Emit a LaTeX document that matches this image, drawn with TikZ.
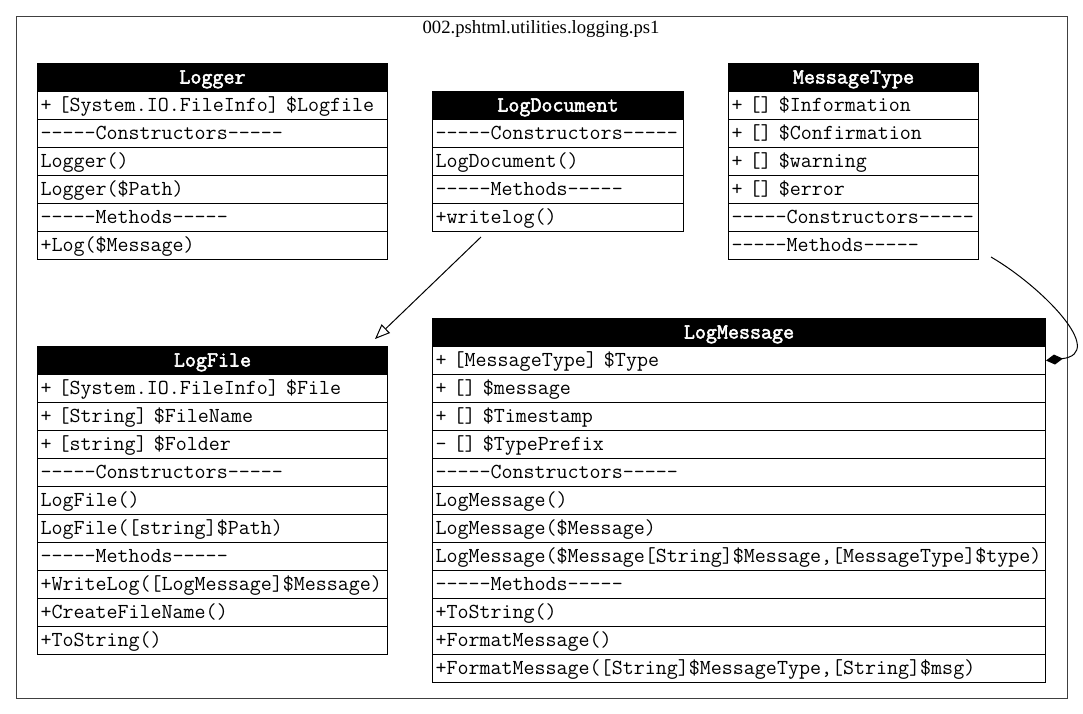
\documentclass[tikz,border=0pt]{standalone}
\usepackage{fontspec}
\setmainfont{Liberation Serif}
\setmonofont{lmmono12-regular.otf}[BoldFont=lmmono12-regular.otf, BoldFeatures={FakeBold=2.5}]
\usetikzlibrary{arrows.meta,calc}

% typewriter text with a fixed 11pt advance, spaces included
\newcommand\rowfont{\ttfamily\fontsize{21.39}{24}\selectfont\spaceskip=\fontcharwd\font`a\relax}
\newcommand\headfont{\ttfamily\bfseries\fontsize{21.39}{24}\selectfont\spaceskip=\fontcharwd\font`a\relax}

\tikzset{
  classhead/.style={draw=black, fill=black, text=white, font=\headfont,
    anchor=north west, minimum height=28, inner sep=0,
    text height=14, text depth=2, line width=1},
  classrow/.style={font=\rowfont, draw=black, fill=white, anchor=north west,
    minimum height=28, inner xsep=3, inner ysep=0, align=left,
    text height=14, text depth=2, line width=1},
  inherit/.style={line width=1, -{Triangle[open, length=15, width=12, line width=1]}},
  aggregate/.style={line width=1, {Diamond[length=17, width=10, fill=black]}-},
  package/.style={draw=black!75, line width=1.2, anchor=north west, inner sep=0},
}

% #1 name, #2 left, #3 top, #4 width, #5 title, #6 rows
\newcommand\classbox[6]{%
  \node[classhead, minimum width=#4] (#1) at (#2,#3) {#5};
  \pgfmathsetmacro\rowtw{#4-6}%
  \foreach \t [count=\i] in {#6} {
    \node[classrow, text width=\rowtw pt, minimum width=#4] (#1-\i) at (#2,{#3+28*\i}) {\t};
  }%
}

\begin{document}
\begin{tikzpicture}[x=1pt, y=-1pt]
\useasboundingbox (0,0) rectangle (1083,713);

\node[package, minimum width=1051, minimum height=682] (frame) at (15.5,15.5) {};
\node[font=\rmfamily\fontsize{18.7}{22}\selectfont] (title) at (541,29) {002.pshtml.utilities.logging.ps1};

\classbox{logger}{37}{63}{350}{Logger}{
  + [System.IO.FileInfo] \$Logfile,
  -----Constructors-----,
  Logger(),
  Logger(\$Path),
  -----Methods-----,
  +Log(\$Message)}

\classbox{logdoc}{432}{91}{251}{LogDocument}{
  -----Constructors-----,
  LogDocument(),
  -----Methods-----,
  +writelog()}

\classbox{msgtype}{728}{63}{250}{MessageType}{
  + [] \$Information,
  + [] \$Confirmation,
  + [] \$warning,
  + [] \$error,
  -----Constructors-----,
  -----Methods-----}

\classbox{logfile}{37}{346}{350}{LogFile}{
  + [System.IO.FileInfo] \$File,
  + [String] \$FileName,
  + [string] \$Folder,
  -----Constructors-----,
  LogFile(),
  LogFile([string]\$Path),
  -----Methods-----,
  +WriteLog([LogMessage]\$Message),
  +CreateFileName(),
  +ToString()}

\classbox{logmsg}{432}{318}{613}{LogMessage}{
  + [MessageType] \$Type,
  + [] \$message,
  + [] \$Timestamp,
  - [] \$TypePrefix,
  -----Constructors-----,
  LogMessage(),
  LogMessage(\$Message),
  {LogMessage(\$Message[String]\$Message,[MessageType]\$type)},
  -----Methods-----,
  +ToString(),
  +FormatMessage(),
  {+FormatMessage([String]\$MessageType,[String]\$msg)}}

% LogFile derives from LogDocument
\draw[inherit] ([shift={(49,5)}]logdoc-4.south west) -- ([shift={(-13,-7)}]logfile.north east);

% LogMessage holds a MessageType
\draw[aggregate] (logmsg-1.east) .. controls +(62,-7) and +(50,29) .. ([shift={(12,-3)}]msgtype-6.south east);
\end{tikzpicture}
\end{document}
